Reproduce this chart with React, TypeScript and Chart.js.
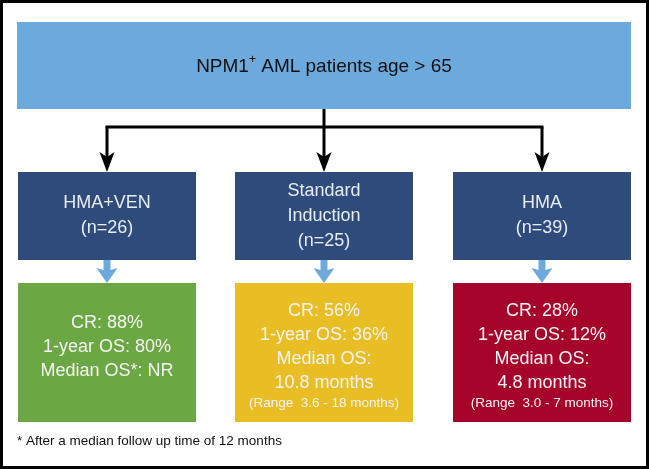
import React, { useEffect, useRef } from "react";
import { Chart, registerables } from "chart.js";

Chart.register(...registerables);

// ---- Data ----
const headline = ["NPM1", "+", " AML patients age > 65"];
const treatments = ["HMA+VEN", "Standard Induction", "HMA"];
const treatmentLabelLines = [["HMA+VEN"], ["Standard", "Induction"], ["HMA"]];
const patientCounts = [26, 25, 39];
const crRates = [88, 56, 28];
const oneYearOS = [80, 36, 12];
const medianOSLabel = ["Median OS*: NR", "Median OS:", "Median OS:"];
const medianOSValue = ["", "10.8 months", "4.8 months"];
const medianOSRange = ["", "(Range  3.6 - 18 months)", "(Range  3.0 - 7 months)"];
const footnote = "* After a median follow up time of 12 months";

const FONT = "'Liberation Sans', Arial, Helvetica, sans-serif";

function arrow(ctx: CanvasRenderingContext2D, x: number, y0: number, y1: number, color: string, shaft: number, headW: number, headH: number, notch: number) {
  ctx.save();
  ctx.fillStyle = color;
  ctx.strokeStyle = color;
  ctx.lineWidth = shaft;
  ctx.beginPath();
  ctx.moveTo(x, y0);
  ctx.lineTo(x, y1 - headH + notch + 1);
  ctx.stroke();
  ctx.beginPath();
  ctx.moveTo(x, y1);
  ctx.lineTo(x - headW / 2, y1 - headH);
  ctx.lineTo(x, y1 - headH + notch);
  ctx.lineTo(x + headW / 2, y1 - headH);
  ctx.closePath();
  ctx.fill();
  ctx.restore();
}

const flowPlugin = {
  id: "flow",
  afterDraw(chart: any) {
    const { ctx, scales } = chart;
    const sx = (v: number) => scales.x.getPixelForValue(v);
    const sy = (v: number) => scales.y.getPixelForValue(v);
    const rect = (x0: number, y0: number, x1: number, y1: number, c: string) => {
      ctx.fillStyle = c;
      ctx.fillRect(sx(x0), sy(y0), sx(x1) - sx(x0), sy(y1) - sy(y0));
    };

    ctx.save();
    rect(0, 0, 649, 469, "#ffffff");
    ctx.strokeStyle = "#000000";
    ctx.lineWidth = 3;
    ctx.strokeRect(sx(0) + 1.5, sy(0) + 1.5, sx(649) - sx(0) - 3, sy(469) - sy(0) - 3);

    // top box
    rect(17, 22, 631, 109, "#6CA9DD");
    ctx.fillStyle = "#111111";
    ctx.textBaseline = "middle";
    ctx.textAlign = "left";
    const big = `19px ${FONT}`;
    const sup = `12px ${FONT}`;
    ctx.font = big;
    const w1 = ctx.measureText(headline[0]).width;
    const w3 = ctx.measureText(headline[2]).width;
    ctx.font = sup;
    const w2 = ctx.measureText(headline[1]).width;
    let tx = sx(324) - (w1 + w2 + w3) / 2;
    const ty = sy(67);
    ctx.font = big;
    ctx.fillText(headline[0], tx, ty);
    tx += w1;
    ctx.font = sup;
    ctx.fillText(headline[1], tx, ty - 7);
    tx += w2;
    ctx.font = big;
    ctx.fillText(headline[2], tx, ty);

    const centers = [107, 324, 542];
    const half = 89;

    ctx.strokeStyle = "#000000";
    ctx.lineWidth = 3;
    ctx.beginPath();
    ctx.moveTo(sx(324), sy(109));
    ctx.lineTo(sx(324), sy(127));
    ctx.moveTo(sx(centers[0]) - 1.5, sy(127));
    ctx.lineTo(sx(centers[2]) + 1.5, sy(127));
    ctx.stroke();

    const botColors = ["#6BA843", "#E9BD24", "#A6032B"];

    treatments.forEach((_, i) => {
      const c = centers[i];
      arrow(ctx, sx(c), sy(127), sy(172), "#000000", 3, 15, 20, 5);
      rect(c - half, 172, c + half, 260, "#2F4B7C");
      const lines = [...treatmentLabelLines[i], `(n=${patientCounts[i]})`];
      ctx.fillStyle = "#E8ECF4";
      ctx.textAlign = "center";
      ctx.font = `18px ${FONT}`;
      const lh = 25;
      const mid = 216;
      lines.forEach((l, k) => {
        ctx.fillText(l, sx(c), sy(mid - ((lines.length - 1) * lh) / 2 + k * lh));
      });

      arrow(ctx, sx(c), sy(260), sy(283), "#6CA9DD", 7, 21, 15, 3);
      rect(c - half, 283, c + half, 422, botColors[i]);

      const main = [`CR: ${crRates[i]}%`, `1-year OS: ${oneYearOS[i]}%`, medianOSLabel[i]];
      if (medianOSValue[i]) main.push(medianOSValue[i]);
      const lh2 = 24;
      let yy = 352 - (main.length * lh2) / 2 - 5;
      ctx.fillStyle = "#F4F4F4";
      ctx.font = `18px ${FONT}`;
      main.forEach((t) => {
        ctx.fillText(t, sx(c), sy(yy + lh2 / 2));
        yy += lh2;
      });
      if (medianOSRange[i]) {
        ctx.font = `13.5px ${FONT}`;
        ctx.fillText(medianOSRange[i], sx(c), sy(yy + 8));
      }
    });

    ctx.fillStyle = "#111111";
    ctx.textAlign = "left";
    ctx.font = `13.5px ${FONT}`;
    ctx.fillText(footnote, sx(17), sy(441));
    ctx.restore();
  },
};

export default function App() {
  const ref = useRef<HTMLCanvasElement>(null);
  useEffect(() => {
    document.body.style.margin = "0";
    const canvas = ref.current;
    if (!canvas) return;
    const chart = new Chart(canvas, {
      type: "scatter",
      data: { datasets: [{ data: [], pointRadius: 0 }] },
      options: {
        animation: false,
        responsive: false,
        maintainAspectRatio: false,
        devicePixelRatio: 1,
        layout: { padding: 0 },
        plugins: { legend: { display: false }, tooltip: { enabled: false } },
        scales: {
          x: { type: "linear", min: 0, max: 649, display: false },
          y: { type: "linear", min: 0, max: 469, reverse: true, display: false },
        },
      },
      plugins: [flowPlugin],
    });
    return () => chart.destroy();
  }, []);
  return (
    <div style={{ width: 649, height: 469 }}>
      <canvas ref={ref} width={649} height={469} style={{ display: "block" }} />
    </div>
  );
}
